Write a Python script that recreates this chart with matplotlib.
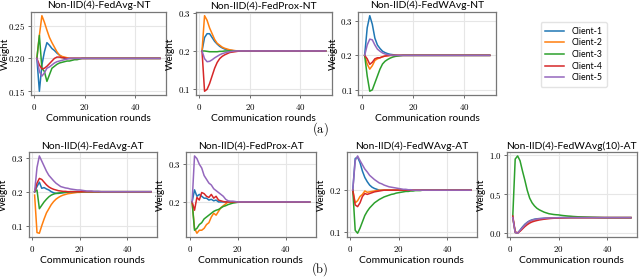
import matplotlib
matplotlib.use('Agg')
from matplotlib import pyplot as plt
from matplotlib.ticker import FuncFormatter

plt.rcParams['font.family'] = ['Lato', 'DejaVu Sans']
plt.rcParams['mathtext.fontset'] = 'cm'

N_ROUNDS = 50
rounds = list(range(1, N_ROUNDS + 1))
clients = ['Client-1', 'Client-2', 'Client-3', 'Client-4', 'Client-5']
colors = ['#1f77b4', '#ff7f0e', '#2ca02c', '#d62728', '#9467bd']

# transient part of each curve (rounds 1..k), the rest sits at 0.2
fedavg_nt = [
    [0.200, 0.150, 0.190, 0.210, 0.224, 0.220, 0.215, 0.212, 0.208, 0.205, 0.202, 0.200],
    [0.200, 0.235, 0.265, 0.255, 0.243, 0.232, 0.224, 0.217, 0.210, 0.205, 0.203, 0.202, 0.201],
    [0.200, 0.235, 0.185, 0.180, 0.165, 0.175, 0.185, 0.188, 0.191, 0.193, 0.194, 0.195, 0.196,
     0.196, 0.197, 0.198, 0.198, 0.199],
    [0.200, 0.190, 0.184, 0.185, 0.188, 0.192, 0.196, 0.200, 0.202, 0.202, 0.201, 0.201],
    [0.200, 0.180, 0.173, 0.178, 0.185, 0.187, 0.190, 0.193, 0.195, 0.196, 0.197, 0.198, 0.199],
]
fedprox_nt = [
    [0.200, 0.235, 0.245, 0.245, 0.235, 0.225, 0.218, 0.212, 0.208, 0.205, 0.203, 0.202, 0.201],
    [0.200, 0.292, 0.280, 0.260, 0.245, 0.230, 0.220, 0.215, 0.210, 0.207, 0.205, 0.203, 0.202,
     0.201],
    [0.200, 0.200, 0.199, 0.198, 0.198, 0.198, 0.198, 0.199, 0.199],
    [0.200, 0.095, 0.100, 0.115, 0.135, 0.155, 0.170, 0.180, 0.186, 0.190, 0.193, 0.196, 0.197,
     0.198, 0.199],
    [0.200, 0.180, 0.172, 0.173, 0.177, 0.182, 0.186, 0.190, 0.193, 0.195, 0.197, 0.198, 0.199],
]
fedwavg_nt = [
    [0.200, 0.280, 0.315, 0.290, 0.250, 0.230, 0.220, 0.212, 0.208, 0.205, 0.203, 0.202, 0.201],
    [0.200, 0.175, 0.160, 0.170, 0.185, 0.190, 0.193, 0.196, 0.198, 0.199],
    [0.200, 0.140, 0.096, 0.100, 0.120, 0.140, 0.160, 0.175, 0.183, 0.188, 0.192, 0.195, 0.197,
     0.198, 0.199],
    [0.200, 0.190, 0.174, 0.180, 0.190, 0.193, 0.193, 0.196, 0.198, 0.199],
    [0.200, 0.230, 0.247, 0.245, 0.230, 0.218, 0.212, 0.207, 0.204, 0.202, 0.201],
]
fedavg_at = [
    [0.200, 0.215, 0.228, 0.210, 0.212, 0.208, 0.205, 0.200, 0.197, 0.195, 0.195, 0.196, 0.197,
     0.198, 0.199],
    [0.190, 0.080, 0.078, 0.100, 0.120, 0.138, 0.150, 0.162, 0.171, 0.178, 0.183, 0.187, 0.190,
     0.192, 0.194, 0.195, 0.196, 0.197, 0.198, 0.198, 0.199],
    [0.200, 0.205, 0.150, 0.160, 0.170, 0.178, 0.185, 0.190, 0.193, 0.195, 0.196, 0.197, 0.198,
     0.198, 0.199],
    [0.200, 0.225, 0.239, 0.236, 0.228, 0.220, 0.214, 0.210, 0.207, 0.205, 0.203, 0.202, 0.201,
     0.201, 0.200],
    [0.200, 0.271, 0.305, 0.290, 0.275, 0.260, 0.248, 0.240, 0.232, 0.225, 0.220, 0.215, 0.213,
     0.211, 0.210, 0.208, 0.207, 0.206, 0.205, 0.205, 0.204, 0.203, 0.202, 0.202, 0.202, 0.201,
     0.201, 0.201, 0.200],
]
fedprox_at = [
    [0.200, 0.232, 0.215, 0.220, 0.215, 0.210, 0.210, 0.205, 0.207, 0.203, 0.205, 0.200, 0.200],
    [0.200, 0.130, 0.117, 0.125, 0.125, 0.130, 0.140, 0.145, 0.160, 0.170, 0.165, 0.175, 0.185,
     0.190, 0.195, 0.200],
    [0.200, 0.125, 0.130, 0.140, 0.145, 0.155, 0.160, 0.165, 0.170, 0.175, 0.178, 0.180, 0.184,
     0.188, 0.190, 0.193, 0.195, 0.197, 0.198, 0.199],
    [0.200, 0.178, 0.212, 0.205, 0.225, 0.222, 0.215, 0.212, 0.220, 0.210, 0.215, 0.205, 0.203,
     0.201, 0.200],
    [0.200, 0.322, 0.315, 0.300, 0.290, 0.270, 0.260, 0.250, 0.245, 0.235, 0.230, 0.225, 0.220,
     0.215, 0.207, 0.203, 0.202, 0.202, 0.201, 0.200],
]
fedwavg_at = [
    [0.200, 0.275, 0.278, 0.265, 0.245, 0.230, 0.220, 0.212, 0.207, 0.204, 0.202, 0.200],
    [0.200, 0.170, 0.175, 0.185, 0.190, 0.198, 0.195, 0.196, 0.197, 0.198, 0.199],
    [0.200, 0.105, 0.098, 0.110, 0.125, 0.140, 0.150, 0.158, 0.164, 0.170, 0.174, 0.178, 0.181,
     0.184, 0.186, 0.188, 0.190, 0.191, 0.193, 0.194, 0.195, 0.196, 0.197, 0.197, 0.198, 0.198,
     0.199, 0.199, 0.199],
    [0.200, 0.165, 0.161, 0.170, 0.185, 0.192, 0.190, 0.192, 0.194, 0.196, 0.197, 0.198, 0.199],
    [0.200, 0.270, 0.281, 0.270, 0.260, 0.250, 0.243, 0.235, 0.230, 0.225, 0.221, 0.217, 0.215,
     0.212, 0.210, 0.208, 0.207, 0.206, 0.205, 0.204, 0.203, 0.202, 0.202, 0.201, 0.201],
]
fedwavg10_at = [
    [0.200, 0.010, 0.000, 0.040, 0.080, 0.115, 0.140, 0.160, 0.172, 0.180, 0.185, 0.188, 0.190,
     0.192, 0.194, 0.195, 0.196, 0.197, 0.198, 0.199],
    [0.200, 0.010, 0.000, 0.030, 0.065, 0.100, 0.130, 0.150, 0.162, 0.170, 0.176, 0.180, 0.184,
     0.187, 0.190, 0.192, 0.194, 0.195, 0.196, 0.197, 0.198, 0.199],
    [0.220, 0.950, 0.990, 0.930, 0.800, 0.680, 0.550, 0.450, 0.390, 0.350, 0.320, 0.300, 0.285,
     0.270, 0.260, 0.250, 0.245, 0.240, 0.237, 0.235, 0.230, 0.226, 0.223, 0.220, 0.218, 0.215,
     0.213, 0.211, 0.210, 0.209, 0.208, 0.207, 0.206, 0.205, 0.204, 0.203, 0.202, 0.201],
    [0.220, 0.020, 0.005, 0.025, 0.055, 0.085, 0.110, 0.130, 0.145, 0.155, 0.163, 0.170, 0.175,
     0.180, 0.184, 0.187, 0.190, 0.192, 0.194, 0.195, 0.196, 0.197, 0.198, 0.199],
    [0.200, 0.010, 0.000, 0.035, 0.070, 0.105, 0.135, 0.155, 0.166, 0.175, 0.181, 0.185, 0.188,
     0.191, 0.193, 0.195, 0.196, 0.197, 0.198, 0.199],
]

titles = ['Non-IID(4)-FedAvg-NT', 'Non-IID(4)-FedProx-NT', 'Non-IID(4)-FedWAvg-NT',
          'Non-IID(4)-FedAvg-AT', 'Non-IID(4)-FedProx-AT', 'Non-IID(4)-FedWAvg-AT',
          'Non-IID(4)-FedWAvg(10)-AT']
panels = [fedavg_nt, fedprox_nt, fedwavg_nt, fedavg_at, fedprox_at, fedwavg_at, fedwavg10_at]
yticks = [[0.15, 0.20, 0.25], [0.1, 0.2, 0.3], [0.1, 0.2, 0.3], [0.1, 0.2, 0.3],
          [0.2, 0.3], [0.1, 0.2], [0.0, 0.5, 1.0]]
ydigits = [2, 1, 1, 1, 1, 1, 1]
xticks = [0, 20, 40]


def full(vals):
    return vals + [0.2] * (N_ROUNDS - len(vals))


W, H = 640, 277
fig = plt.figure(figsize=(W / 100, H / 100), dpi=100)
rects = [
    [0.048, 0.657, 0.2115, 0.300],
    [0.306, 0.657, 0.2125, 0.300],
    [0.560, 0.657, 0.2150, 0.300],
    [0.045, 0.144, 0.200, 0.307],
    [0.291, 0.144, 0.202, 0.307],
    [0.542, 0.144, 0.203, 0.307],
    [0.792, 0.144, 0.203, 0.307],
]

for i, rect in enumerate(rects):
    ax = fig.add_axes(rect)
    for c in range(5):
        ax.plot(rounds, full(panels[i][c]), color=colors[c], lw=1.1, label=clients[c])
    ax.set_title(titles[i], fontsize=7.4, pad=2.5)
    ax.set_xlabel('Communication rounds', fontsize=7.4, labelpad=1.5)
    ax.set_ylabel('Weight', fontsize=7.2)
    ax.yaxis.set_label_coords(-21.0 / (rect[2] * W), 0.5)
    ax.set_xticks(xticks)
    ax.set_yticks(yticks[i])
    d = ydigits[i]
    ax.yaxis.set_major_formatter(FuncFormatter(lambda v, p, d=d: '$%.*f$' % (d, v)))
    ax.xaxis.set_major_formatter(FuncFormatter(lambda v, p: '$%d$' % v))
    ax.tick_params(labelsize=6.4, length=2.5, width=0.6, color='#555555', pad=1.2)
    ax.tick_params(axis='x', pad=2.5)
    ax.grid(True, color='#e6e6e6', lw=0.8)
    ax.set_axisbelow(True)
    for s in ax.spines.values():
        s.set_color('#777777')
        s.set_linewidth(0.9)
    if i == 2:
        handles, labels = ax.get_legend_handles_labels()

fig.legend(handles, labels, loc='upper left', bbox_to_anchor=(0.838, 0.935), fontsize=6.3,
           frameon=True, edgecolor='#dddddd', handlelength=2.2, borderpad=0.5,
           labelspacing=0.3)
fig.text(0.5, 0.535, r'$\mathrm{(a)}$', ha='center', va='center', fontsize=9)
fig.text(0.5, 0.03, r'$\mathrm{(b)}$', ha='center', va='center', fontsize=9)

fig.savefig('out.png', dpi=100)
